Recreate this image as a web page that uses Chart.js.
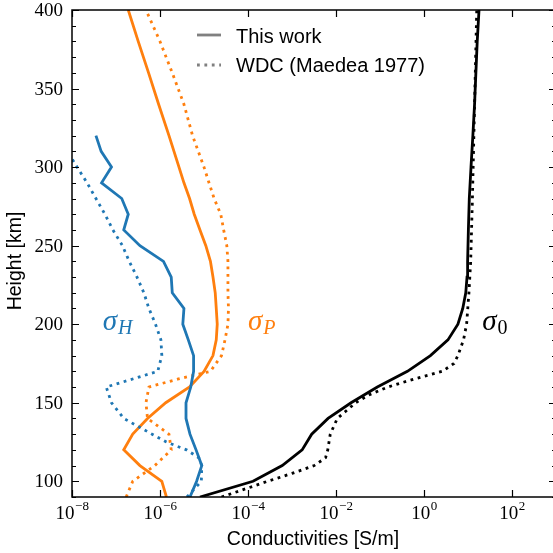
<!DOCTYPE html>
<html>
<head>
<meta charset="utf-8">
<script src="https://cdn.jsdelivr.net/npm/chart.js@4.4.1/dist/chart.umd.min.js"></script>
<style>
  html, body { margin: 0; padding: 0; background: #fff; overflow: hidden; }
  canvas { display: block; }
</style>
</head>
<body>
<canvas id="chart" width="560" height="553"></canvas>
<script>
// Hall conductivity [S/m] vs height [km]
const hallHeights = [90, 100, 110, 120, 130, 140, 150, 160, 170, 180, 190, 200, 210, 220, 230, 240, 250, 260, 270, 280, 290, 300, 310, 320];
const hallModel = [4.8e-6, 6.8e-6, 8.9e-6, 6.6e-6, 4.8e-6, 3.9e-6, 3.9e-6, 5.0e-6, 5.8e-6, 5.8e-6, 4.4e-6, 3.3e-6, 3.5e-6, 1.9e-6, 1.8e-6, 1.2e-6, 3.5e-7, 1.5e-7, 1.9e-7, 1.35e-7, 4.7e-8, 7.9e-8, 4.6e-8, 3.5e-8];
const hallWdcHeights = [90, 100, 110, 115, 120, 125, 130, 140, 150, 160, 170, 180, 190, 200, 210, 220, 230, 240, 250, 260, 270, 280, 290, 300, 310];
const hallWdc = [4.1e-6, 8.7e-6, 8.9e-6, 7.6e-6, 4.0e-6, 1.4e-6, 6.6e-7, 1.5e-7, 7.9e-8, 6.0e-8, 8.9e-7, 1.1e-6, 1.05e-6, 7.9e-7, 5.6e-7, 4.3e-7, 3.0e-7, 2.0e-7, 1.4e-7, 8.5e-8, 5.6e-8, 3.5e-8, 2.2e-8, 1.3e-8, 7.9e-9];

// Pedersen conductivity
const pedHeights = [90, 100, 110, 120, 130, 140, 150, 160, 170, 180, 190, 200, 210, 220, 230, 240, 250, 260, 270, 280, 290, 300, 320, 340, 360, 380, 400];
const pedModel = [1.4e-6, 1.1e-6, 3.5e-7, 1.5e-7, 2.4e-7, 5.2e-7, 1.35e-6, 4.7e-6, 1.0e-5, 1.6e-5, 1.9e-5, 2.0e-5, 1.9e-5, 1.8e-5, 1.6e-5, 1.4e-5, 1.1e-5, 8.1e-6, 6.0e-6, 4.7e-6, 3.5e-6, 2.7e-6, 1.6e-6, 9.3e-7, 5.5e-7, 3.2e-7, 1.9e-7];
const pedWdcHeights = [90, 100, 110, 120, 130, 140, 150, 160, 165, 170, 180, 190, 200, 210, 220, 230, 240, 250, 260, 270, 280, 290, 300, 320, 340, 360, 380, 400];
const pedWdc = [1.7e-7, 2.4e-7, 7.6e-7, 1.8e-6, 1.6e-6, 5.2e-7, 4.8e-7, 5.6e-7, 2.5e-6, 1.4e-5, 2.5e-5, 3.0e-5, 3.5e-5, 3.6e-5, 3.5e-5, 3.5e-5, 3.5e-5, 3.3e-5, 2.8e-5, 2.4e-5, 1.7e-5, 1.3e-5, 1.0e-5, 5.5e-6, 3.5e-6, 1.9e-6, 1.0e-6, 4.8e-7];

// Parallel conductivity
const parHeights = [90, 100, 110, 120, 130, 140, 150, 160, 170, 180, 190, 200, 210, 220, 230, 240, 260, 280, 300, 320, 340, 360, 380, 400];
const parModel = [8.1e-6, 1.3e-4, 6.0e-4, 1.7e-3, 2.8e-3, 6.6e-3, 2.2e-2, 8.7e-2, 0.42, 1.4, 3.5, 5.9, 7.6, 8.9, 9.5, 9.8, 10.2, 10.7, 11.7, 12.9, 14.1, 15.1, 16.2, 17.8];
const parWdcHeights = [90, 100, 105, 110, 115, 120, 130, 140, 150, 155, 160, 165, 170, 175, 180, 190, 200, 220, 240, 280, 400];
const parWdc = [2.5e-5, 2.8e-4, 1.0e-3, 3.2e-3, 5.8e-3, 6.5e-3, 7.4e-3, 1.07e-2, 2.8e-2, 5.6e-2, 0.15, 0.58, 2.6, 4.8, 5.9, 7.9, 9.3, 10.5, 11.5, 12.6, 15.8];

// Axis ticks
const xTickExponents = [-8, -6, -4, -2, 0, 2];
const yTickLabels = [100, 150, 200, 250, 300, 350, 400];

const BLUE = '#1f77b4';
const ORANGE = '#ff7f0e';
const LW = 2.8;
const DOTS = [2.8, 4.6];

const toPoints = (hs, vs) => hs.map((h, i) => ({ x: vs[i], y: h }));

const series = (data, color, dotted) => ({
  data,
  borderColor: color,
  borderWidth: LW,
  borderDash: dotted ? DOTS : [],
  pointRadius: 0,
  tension: 0,
  fill: false
});

const frame = {
  id: 'frame',
  afterDatasetsDraw(chart) {
    const { ctx, chartArea: a, scales: { x, y } } = chart;
    ctx.save();
    ctx.strokeStyle = '#000';
    ctx.lineWidth = 1.2;
    ctx.setLineDash([]);
    ctx.beginPath();
    for (let h = 90; h <= 400; h += 10) {
      const py = Math.round(y.getPixelForValue(h)) + 0.5;
      const len = h % 50 === 0 ? 7 : 4;
      ctx.moveTo(a.left, py); ctx.lineTo(a.left + len, py);
      ctx.moveTo(a.right, py); ctx.lineTo(a.right - len, py);
    }
    xTickExponents.forEach(e => {
      const px = Math.round(x.getPixelForValue(Math.pow(10, e))) + 0.5;
      ctx.moveTo(px, a.bottom); ctx.lineTo(px, a.bottom - 7);
      ctx.moveTo(px, a.top); ctx.lineTo(px, a.top + 7);
    });
    ctx.stroke();
    ctx.lineWidth = 1.5;
    ctx.strokeRect(a.left, a.top, a.right - a.left, a.bottom - a.top);

    // tick labels
    ctx.fillStyle = '#000';
    ctx.font = '19px "Liberation Serif"';
    ctx.textAlign = 'right';
    ctx.textBaseline = 'middle';
    yTickLabels.forEach(v => ctx.fillText(String(v), a.left - 9, y.getPixelForValue(v) + 1));

    ctx.textAlign = 'left';
    ctx.textBaseline = 'alphabetic';
    xTickExponents.forEach(e => {
      const px = x.getPixelForValue(Math.pow(10, e));
      const exp = e < 0 ? '\u2212' + (-e) : String(e);
      ctx.font = '19px "Liberation Serif"';
      const wBase = ctx.measureText('10').width;
      ctx.font = '13px "Liberation Serif"';
      const wExp = ctx.measureText(exp).width;
      const left = px - (wBase + wExp) / 2;
      ctx.font = '19px "Liberation Serif"';
      ctx.fillText('10', left, a.bottom + 22);
      ctx.font = '13px "Liberation Serif"';
      ctx.fillText(exp, left + wBase + 0.5, a.bottom + 13);
    });

    // axis titles
    ctx.font = '19.5px "Liberation Sans"';
    ctx.textAlign = 'center';
    ctx.fillText('Conductivities [S/m]', (a.left + a.right) / 2 - 1, 545);
    ctx.save();
    ctx.translate(21, 261);
    ctx.rotate(-Math.PI / 2);
    ctx.fillText('Height [km]', 0, 0);
    ctx.restore();

    // legend
    ctx.strokeStyle = '#808080';
    ctx.lineWidth = LW;
    ctx.beginPath(); ctx.moveTo(197, 35); ctx.lineTo(221, 35); ctx.stroke();
    ctx.setLineDash(DOTS);
    ctx.beginPath(); ctx.moveTo(197, 65); ctx.lineTo(221, 65); ctx.stroke();
    ctx.setLineDash([]);
    ctx.font = '20px "Liberation Sans"';
    ctx.textAlign = 'left';
    ctx.fillText('This work', 236, 43);
    ctx.fillText('WDC (Maedea 1977)', 236, 72);

    // curve labels
    const sigma = (val, h, sub, subItalic, color) => {
      const px = x.getPixelForValue(val);
      const py = y.getPixelForValue(h);
      ctx.fillStyle = color;
      ctx.font = 'italic 29px "Liberation Serif"';
      ctx.fillText('\u03c3', px, py);
      const w = ctx.measureText('\u03c3').width;
      ctx.font = (subItalic ? 'italic ' : '') + '20px "Liberation Serif"';
      ctx.fillText(sub, px + w + 1, py + 4);
    };
    sigma(5.0e-8, 196, 'H', true, BLUE);
    sigma(1.0e-4, 196, 'P', true, ORANGE);
    sigma(21, 196, '0', false, '#000');
    ctx.restore();
  }
};

new Chart(document.getElementById('chart'), {
  type: 'line',
  data: {
    datasets: [
      series(toPoints(hallHeights, hallModel), BLUE, false),
      series(toPoints(hallWdcHeights, hallWdc), BLUE, true),
      series(toPoints(pedHeights, pedModel), ORANGE, false),
      series(toPoints(pedWdcHeights, pedWdc), ORANGE, true),
      series(toPoints(parHeights, parModel), '#000', false),
      series(toPoints(parWdcHeights, parWdc), '#000', true)
    ]
  },
  options: {
    responsive: false,
    animation: false,
    devicePixelRatio: 1,
    layout: { padding: { left: 72, right: 4, top: 10, bottom: 56 } },
    scales: {
      x: { type: 'logarithmic', min: 1e-8, max: 1e3, display: false },
      y: { type: 'linear', min: 90, max: 400, display: false }
    },
    plugins: { legend: { display: false }, tooltip: { enabled: false } }
  },
  plugins: [frame]
});
</script>
</body>
</html>
